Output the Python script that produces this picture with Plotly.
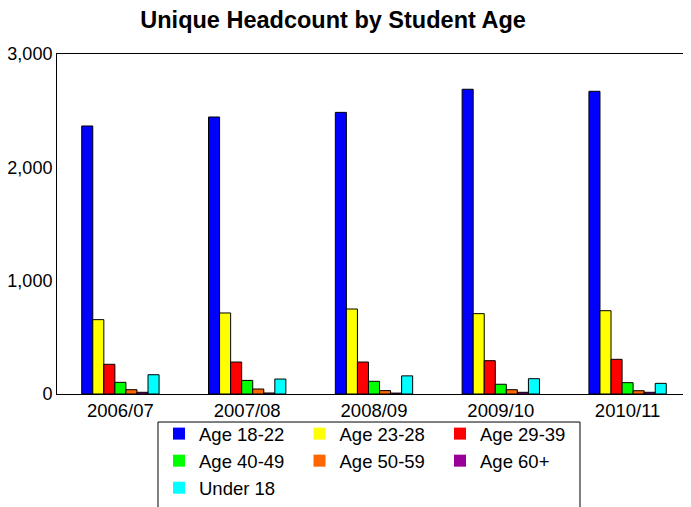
import plotly.graph_objects as go

years = ["2006/07", "2007/08", "2008/09", "2009/10", "2010/11"]

age_18_22 = [2365, 2444, 2485, 2689, 2671]
age_23_28 = [656, 715, 750, 709, 735]
age_29_39 = [262, 282, 282, 294, 306]
age_40_49 = [103, 120, 112, 86, 100]
age_50_59 = [38, 44, 30, 38, 29]
age_60_plus = [15, 9, 8, 15, 15]
under_18 = [170, 132, 160, 135, 94]

# name, values, colour, legend column
series = [
    ("Age 18-22", age_18_22, "#0000ff", "c1"),
    ("Age 23-28", age_23_28, "#ffff00", "c2"),
    ("Age 29-39", age_29_39, "#ff0000", "c3"),
    ("Age 40-49", age_40_49, "#00ff00", "c1"),
    ("Age 50-59", age_50_59, "#ff6600", "c2"),
    ("Age 60+", age_60_plus, "#990099", "c3"),
    ("Under 18", under_18, "#00ffff", "c1"),
]

fig = go.Figure()
for name, vals, color, col in series:
    fig.add_trace(
        go.Bar(
            x=years,
            y=vals,
            name=name,
            showlegend=False,
            marker=dict(color=color, line=dict(color="#000000", width=1)),
        )
    )

# legend-only copies on a hidden overlay axis, so the swatches have no outline
for name, vals, color, col in series:
    fig.add_trace(
        go.Bar(
            x=years,
            y=[None] * len(years),
            name=name,
            legendgroup=col,
            xaxis="x2",
            yaxis="y2",
            hoverinfo="skip",
            marker=dict(color=color, line=dict(width=0)),
        )
    )

# legend frame drawn as a shape so the rows can sit where they should
fig.add_shape(
    type="rect",
    xref="paper",
    yref="paper",
    x0=0.1593,
    x1=0.8249,
    y0=-0.0824,
    y1=-0.5,
    line=dict(color="#000000", width=1),
    fillcolor="rgba(0,0,0,0)",
)

fig.update_layout(
    width=683,
    height=499,
    barmode="group",
    bargap=0.39,
    bargroupgap=0,
    paper_bgcolor="#ffffff",
    plot_bgcolor="#ffffff",
    font=dict(family="Arial, Liberation Sans, sans-serif", size=18.5, color="#000000"),
    margin=dict(l=49, r=0, t=46, b=113, autoexpand=False),
    title=dict(
        text="<b>Unique Headcount by Student Age</b>",
        x=0.476,
        xanchor="center",
        y=0.976,
        yanchor="middle",
        font=dict(size=23.5),
    ),
    xaxis=dict(
        showline=True,
        linecolor="#000000",
        linewidth=1,
        mirror=True,
        showgrid=False,
        ticks="",
    ),
    yaxis=dict(
        range=[0, 3000],
        tickvals=[0, 1000, 2000, 3000],
        tickformat=",",
        tickfont=dict(size=18),
        showline=True,
        linecolor="#000000",
        linewidth=1,
        showgrid=False,
        zeroline=False,
        ticks="",
        ticklabelstandoff=0,
    ),
    xaxis2=dict(overlaying="x", visible=False, matches="x"),
    yaxis2=dict(overlaying="y", visible=False, range=[0, 3000]),
    legend=dict(
        orientation="h",
        x=0.1609,
        xanchor="left",
        y=-0.062,
        yanchor="top",
        borderwidth=0,
        bgcolor="rgba(0,0,0,0)",
        tracegroupgap=0,
        entrywidth=95.5,
        entrywidthmode="pixels",
        font=dict(size=18.5),
    ),
)

fig.write_html("out.html")
